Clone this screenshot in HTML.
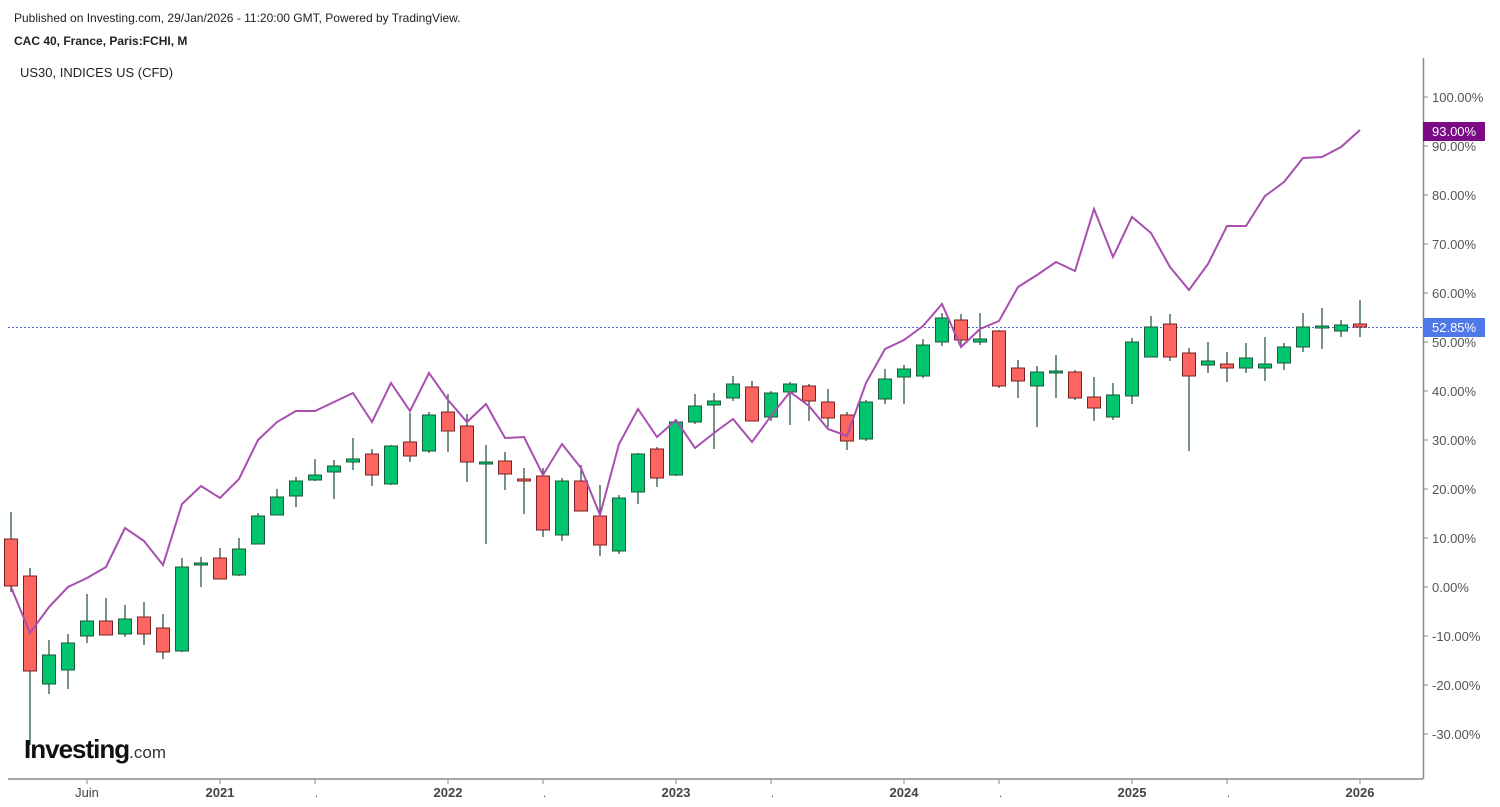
<!DOCTYPE html>
<html><head><meta charset="utf-8"><style>
html,body{margin:0;padding:0;background:#fff;width:1500px;height:807px;overflow:hidden}
svg{display:block;font-family:"Liberation Sans",Arial,sans-serif}
</style></head><body>
<svg id="s" width="1500" height="807" xmlns="http://www.w3.org/2000/svg">
<text x="14" y="22" font-size="12" fill="#222">Published on Investing.com, 29/Jan/2026 - 11:20:00 GMT, Powered by TradingView.</text>
<text x="14" y="45" font-size="12" font-weight="bold" fill="#222">CAC 40, France, Paris:FCHI, M</text>
<text x="20" y="77" font-size="13" fill="#222">US30, INDICES US (CFD)</text>
<line x1="1423.5" y1="58" x2="1423.5" y2="779" stroke="#888" stroke-width="1.5"/>
<line x1="8" y1="779" x2="1423" y2="779" stroke="#888" stroke-width="1.5"/>
<line x1="8" y1="327.5" x2="1423" y2="327.5" stroke="#5266e0" stroke-width="1" stroke-dasharray="2,2"/>
<g id="g"></g>
<text x="24" y="758" font-size="26" font-weight="bold" fill="#111" letter-spacing="-1">Investing<tspan font-size="17" font-weight="normal" fill="#333" letter-spacing="0">.com</tspan></text>
<rect x="1423" y="122" width="62" height="19" fill="#7b0a84"/>
<text x="1432" y="136" font-size="13" fill="#fff">93.00%</text>
<rect x="1423" y="318" width="62" height="19" fill="#4f78e8"/>
<text x="1432" y="332" font-size="13" fill="#fff">52.85%</text>
</svg>
<script>
var g=document.getElementById('g'),h='';
for(var p=100;p>=-30;p-=10){var y=587-4.9*p;h+='<line x1="1423" y1="'+y+'" x2="1428" y2="'+y+'" stroke="#888"/>';
h+='<text x="1432" y="'+(y+5)+'" font-size="13" fill="#555">'+p.toFixed(2)+'%</text>';}
var xl=[[87,'Juin',0],[220,'2021',1],[448,'2022',1],[676,'2023',1],[904,'2024',1],[1132,'2025',1],[1360,'2026',1]];
xl.forEach(function(a){h+='<line x1="'+a[0]+'" y1="779" x2="'+a[0]+'" y2="784" stroke="#888"/><text x="'+a[0]+'" y="797" font-size="13" text-anchor="middle" fill="#444"'+(a[2]?' font-weight="bold"':'')+'>'+a[1]+'</text>';});
[315,543,771,999,1227].forEach(function(x){h+='<line x1="'+x+'" y1="779" x2="'+x+'" y2="784" stroke="#888"/><text x="'+x+'" y="797" font-size="11" fill="#444">.</text>';});
var c=[[539,586,512,592,'r'],[576,671,568,745,'r'],[655,684,640,694,'g'],[643,670,634,689,'g'],[621,636,594,643,'g'],[621,635,598,635,'r'],[619,634,605,637,'g'],[617,634,602,645,'r'],[628,652,614,659,'r'],[567,651,558,652,'g'],[563,565,557,587,'g'],[558,579,548,579,'r'],[549,575,538,576,'g'],[516,544,513,544,'g'],[497,515,489,508,'g'],[481,496,477,507,'g'],[475,480,459,481,'g'],[466,472,460,499,'g'],[459,462,438,470,'g'],[454,475,449,486,'r'],[446,484,445,485,'g'],[442,456,413,462,'r'],[415,451,412,453,'g'],[412,431,394,452,'r'],[426,462,414,482,'r'],[462,464,445,544,'g'],[461,474,452,490,'r'],[479,481,468,514,'r'],[476,530,468,537,'r'],[481,535,478,541,'g'],[481,511,465,511,'r'],[516,545,485,556,'r'],[498,551,495,554,'g'],[454,492,453,504,'g'],[449,478,447,487,'r'],[422,475,419,476,'g'],[406,422,394,424,'g'],[401,405,393,449,'g'],[384,398,376,401,'g'],[387,421,381,421,'r'],[393,417,391,421,'g'],[384,392,382,425,'g'],[386,401,384,421,'r'],[402,418,389,427,'r'],[415,441,412,450,'r'],[402,439,400,441,'g'],[379,399,369,404,'g'],[369,377,365,404,'g'],[345,376,339,378,'g'],[318,342,313,346,'g'],[320,340,314,346,'r'],[339,342,313,345,'g'],[331,386,330,388,'r'],[368,381,360,398,'r'],[372,386,366,427,'g'],[371,373,355,398,'g'],[372,398,370,400,'r'],[397,408,377,421,'r'],[395,417,383,420,'g'],[342,396,338,404,'g'],[327,357,316,357,'g'],[324,357,314,361,'r'],[353,376,348,451,'r'],[361,365,342,373,'g'],[364,368,352,382,'r'],[358,368,343,373,'g'],[364,368,337,381,'g'],[347,363,343,370,'g'],[327,347,313,352,'g'],[326,328,308,349,'g'],[325,331,320,337,'g'],[324,327,300,337,'r']];
c.forEach(function(a,i){var x=11+19*i;var fill=a[4]=='g'?'#00c46e':'#fd6660',st=a[4]=='g'?'#1e5a3a':'#7a2020';
h+='<line x1="'+x+'" y1="'+a[2]+'" x2="'+x+'" y2="'+a[3]+'" stroke="#1e4a34" stroke-width="1.2"/>';
var bh=Math.max(a[1]-a[0],2);h+='<rect x="'+(x-6.5)+'" y="'+a[0]+'" width="13" height="'+bh+'" fill="'+fill+'" stroke="'+st+'" stroke-width="1"/>';});
var l=[587,633,607,587,578,567,528,541,565,504,486,498,479,440,422,411,411,402,393,422,383,411,373,400,422,404,438,437,475,444,468,515,444,409,437,420,448,433,419,442,416,392,406,429,436,383,349,340,326,304,347,329,321,287,275,262,271,209,257,217,233,267,290,264,226,226,196,182,158,157,147,130];
var pts=l.map(function(y,i){return (11+19*i)+','+y}).join(' ');
h+='<polyline points="'+pts+'" fill="none" stroke="#a84fb0" stroke-width="2"/>';
g.innerHTML=h;
</script>
</body></html>
